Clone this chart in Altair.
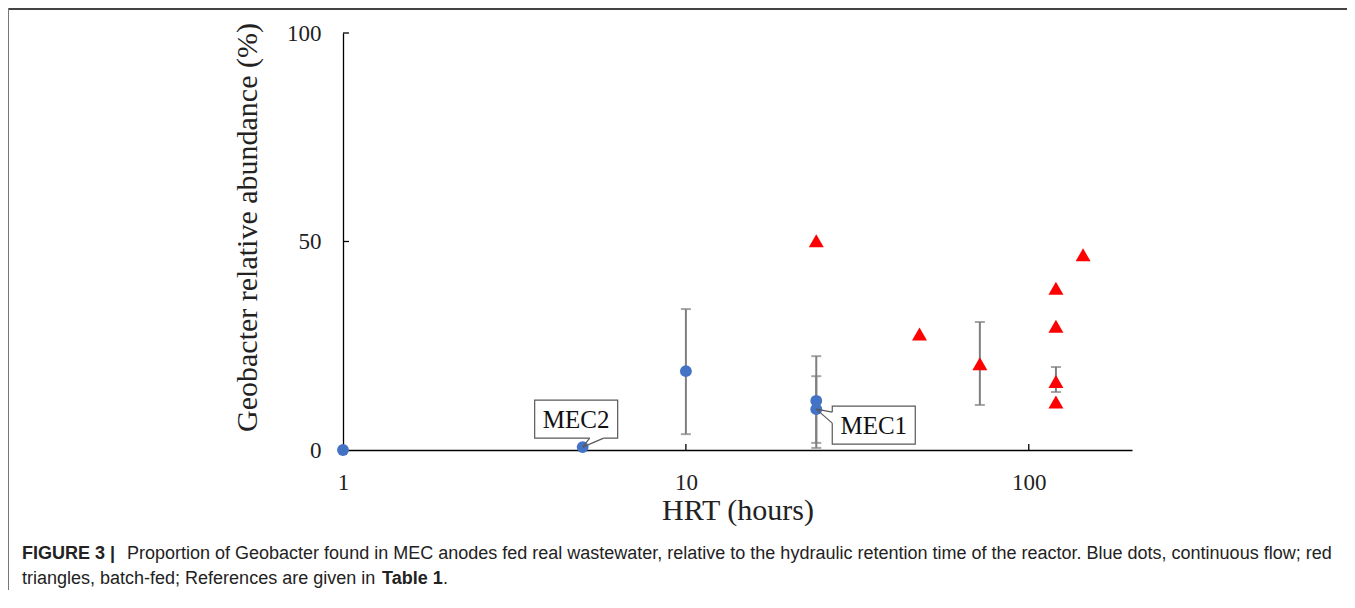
import math
import altair as alt
import pandas as pd

# ---------------- data ----------------
blue_hrt = [1, 5, 10, 24, 24]
blue_abund = [0, 0.7, 18.9, 11.8, 9.8]
blue_err_lo = [None, None, 3.8, 0.5, 1.7]
blue_err_hi = [None, None, 33.8, 22.5, 17.7]

red_hrt = [24, 48, 72, 120, 120, 120, 120, 144]
red_abund = [50.2, 27.8, 20.7, 38.8, 29.7, 16.4, 11.5, 46.8]
red_err_lo = [None, None, 10.8, None, None, 13.9, None, None]
red_err_hi = [None, None, 30.7, None, None, 19.9, None, None]

x_ticks = [1, 10, 100]
y_ticks = [0, 50, 100]
x_inner_ticks = [10, 100]
y_inner_ticks = [50, 100]

callout_labels = ["MEC2", "MEC1"]
callout_hrt = [5, 24]
callout_abund = [0.7, 9.8]

caption_line1_bold = "FIGURE 3 |"
caption_line1 = ("Proportion of Geobacter found in MEC anodes fed real wastewater, relative to the "
                 "hydraulic retention time of the reactor. Blue dots, continuous flow; red")
caption_line2 = "triangles, batch-fed; References are given in"
caption_line2_bold = "Table 1"
caption_line2_end = "."

# ---------------- layout ----------------
W, H = 789, 417
XMAX = 200
SERIF = "Liberation Serif"
SANS = "Liberation Sans"
BLUE = "#4472C4"
RED = "#FF0000"
ERR = "#7F7F7F"


def px(v):
    return W * math.log10(v) / math.log10(XMAX)


def py(v):
    return H * (1 - v / 100)


blue = pd.DataFrame({"hrt": blue_hrt, "abund": blue_abund, "lo": blue_err_lo, "hi": blue_err_hi})
red = pd.DataFrame({"hrt": red_hrt, "abund": red_abund, "lo": red_err_lo, "hi": red_err_hi})
err = pd.concat([blue, red]).dropna().reset_index(drop=True)

xscale = alt.Scale(type="log", domain=[1, XMAX], nice=False)
yscale = alt.Scale(domain=[0, 100], nice=False)

x_axis = alt.Axis(
    values=x_ticks, format="d", grid=False, ticks=False, tickSize=0, labelFlush=False,
    domainColor="#000", domainWidth=1.3,
    labelFont=SERIF, labelFontSize=23, labelColor="#222", labelPadding=21,
    title="HRT (hours)", titleFont=SERIF, titleFontSize=30, titleFontWeight="normal",
    titleColor="#222", titleX=W / 2, titleY=60, titleBaseline="middle", titleAlign="center",
)
y_axis = alt.Axis(
    values=y_ticks, grid=False, ticks=False, tickSize=0, labelFlush=False,
    domainColor="#000", domainWidth=1.3,
    labelFont=SERIF, labelFontSize=23, labelColor="#222", labelPadding=22,
    title="Geobacter relative abundance (%)", titleFont=SERIF, titleFontSize=30,
    titleFontWeight="normal", titleColor="#222", titleAngle=270,
    titleX=-96, titleY=194, titleBaseline="middle", titleAlign="center",
)

X = alt.X("hrt:Q", scale=xscale, axis=x_axis)
Y = alt.Y("abund:Q", scale=yscale, axis=y_axis)

err_rule = alt.Chart(err).mark_rule(color=ERR, strokeWidth=2).encode(
    x=X, y=alt.Y("lo:Q", scale=yscale), y2="hi:Q"
)
cap_lo = alt.Chart(err).mark_tick(orient="horizontal", size=10, thickness=2, color=ERR).encode(
    x=X, y=alt.Y("lo:Q", scale=yscale)
)
cap_hi = alt.Chart(err).mark_tick(orient="horizontal", size=10, thickness=2, color=ERR).encode(
    x=X, y=alt.Y("hi:Q", scale=yscale)
)

blue_pts = alt.Chart(blue).mark_circle(size=140, color=BLUE, opacity=1).encode(x=X, y=Y)
red_pts = alt.Chart(red).mark_point(shape="triangle-up", filled=True, size=225, color=RED, opacity=1).encode(x=X, y=Y)

xt = alt.Chart(pd.DataFrame({"hrt": x_inner_ticks})).mark_rule(color="#000", strokeWidth=1.3).encode(
    x=X, y=alt.value(H), y2=alt.value(H - 6)
)
yt = alt.Chart(pd.DataFrame({"abund": y_inner_ticks})).mark_rule(color="#000", strokeWidth=1.3).encode(
    y=Y, x=alt.value(0), x2=alt.value(6)
)

# ---------------- callouts ----------------
layers_callout = []
box_w, box_h = 83, 38
for lab, hx, ay in zip(callout_labels, callout_hrt, callout_abund):
    tx, ty = px(hx), py(ay)
    if lab == "MEC2":
        bx0 = tx - 48
        by0 = ty - 47
        base = [(tx + 7, by0 + box_h), (tx + 21, by0 + box_h)]
    else:
        bx0 = tx + 16
        by0 = ty - 3
        base = [(bx0, by0 + 6), (bx0, by0 + 17)]
    src = alt.Chart(pd.DataFrame({"k": [0]}))
    layers_callout.append(
        src.mark_rect(fill="white", stroke="#595959", strokeWidth=1.2).encode(
            x=alt.value(bx0), x2=alt.value(bx0 + box_w), y=alt.value(by0), y2=alt.value(by0 + box_h)
        )
    )
    layers_callout.append(
        src.mark_rule(color="white", strokeWidth=2.5).encode(
            x=alt.value(base[0][0]), y=alt.value(base[0][1]), x2=alt.value(base[1][0]), y2=alt.value(base[1][1])
        )
    )
    for bxp, byp in base:
        layers_callout.append(
            src.mark_rule(color="#595959", strokeWidth=1.2).encode(
                x=alt.value(bxp), y=alt.value(byp), x2=alt.value(tx), y2=alt.value(ty)
            )
        )
    layers_callout.append(
        src.mark_text(font=SERIF, fontSize=25, color="#111", align="center", baseline="middle").encode(
            x=alt.value(bx0 + box_w / 2), y=alt.value(by0 + box_h / 2 + 1), text=alt.value(lab)
        )
    )

# ---------------- frame & caption ----------------
one = alt.Chart(pd.DataFrame({"k": [0]}))
frame_top = one.mark_rule(color="#444", strokeWidth=2).encode(
    x=alt.value(-336), x2=alt.value(1004), y=alt.value(-24), y2=alt.value(-24)
)
frame_left = one.mark_rule(color="#777", strokeWidth=2).encode(
    x=alt.value(-335), x2=alt.value(-335), y=alt.value(-25), y2=alt.value(600)
)


def cap(txt, x, y, bold=False):
    return one.mark_text(font=SANS, fontSize=18, color="#222", align="left", baseline="alphabetic",
                         fontWeight="bold" if bold else "normal").encode(
        x=alt.value(x), y=alt.value(y), text=alt.value(txt)
    )


captions = [
    cap(caption_line1_bold, -321, 526, True),
    cap(caption_line1, -216, 526),
    cap(caption_line2, -321, 551),
    cap(caption_line2_bold, 39, 551, True),
    cap(caption_line2_end, 100, 551),
]

chart = alt.layer(
    err_rule, cap_lo, cap_hi, blue_pts, red_pts, xt, yt,
    *layers_callout, frame_top, frame_left, *captions
).properties(
    width=W, height=H,
    autosize=alt.AutoSizeParams(type="none"),
    padding={"left": 335, "top": 25, "right": 215, "bottom": 140},
).configure_view(stroke=None)

chart.save("out.html", embed_options={"renderer": "svg", "actions": False})
